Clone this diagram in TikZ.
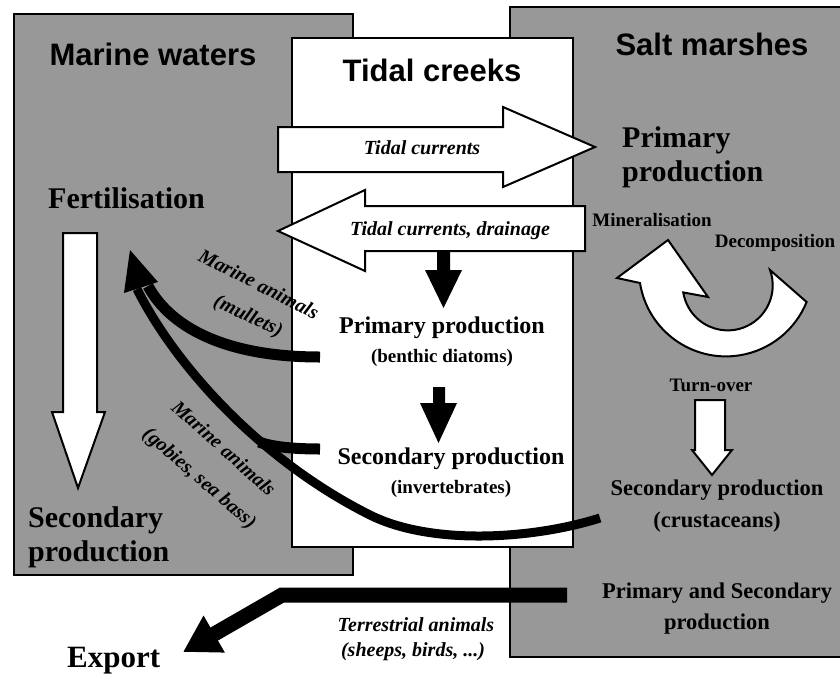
\documentclass[tikz,border=0pt]{standalone}
\usepackage{fontspec}
\setmainfont{Liberation Serif}
\setsansfont{Liberation Sans}
\usetikzlibrary{arrows.meta}
\definecolor{zonegray}{RGB}{152,152,152}
\begin{document}
\begin{tikzpicture}[x=1pt,y=-1pt,
  title/.style={font=\sffamily\bfseries\fontsize{31}{31}\selectfont, inner sep=0pt},
  big/.style={font=\bfseries\fontsize{30}{30}\selectfont, inner sep=0pt},
  mid/.style={font=\bfseries\fontsize{24}{24}\selectfont, inner sep=0pt},
  smalltxt/.style={font=\bfseries\fontsize{19}{19}\selectfont, inner sep=0pt},
  marsh/.style={font=\bfseries\fontsize{22.5}{22.5}\selectfont, inner sep=0pt},
  lab/.style={font=\bfseries\itshape\fontsize{20}{20}\selectfont, inner sep=0pt},
  zone/.style={fill=zonegray, draw=black, line width=1.5pt},
  whitearrow/.style={fill=white, draw=black, line width=2pt, line join=miter},
  flow/.style={draw=black, line cap=butt},
]
\useasboundingbox (0,0) rectangle (840,675);
\fill[white] (0,0) rectangle (840,675);

% zones
\path[zone] (14,14) rectangle (353,575);
\fill[zonegray] (510,7) rectangle (840,657);
\draw[line width=1.5pt] (840,7) -- (510,7) -- (510,657) -- (840,657);
\draw[fill=white, line width=1.5pt] (292,38) rectangle (573,547);

% titles
\node[title] (mw) at (153,54) {Marine waters};
\node[title] (tc) at (432,70) {Tidal creeks};
\node[title] (sm) at (712,44) {Salt marshes};

% tidal current arrows
\draw[whitearrow] (278,127) -- (503,127) -- (503,107) -- (595,147) -- (503,187) -- (503,172) -- (278,172) -- cycle;
\node[lab] (tcur) at (422,148) {Tidal currents};
\draw[whitearrow] (585,206) -- (365,206) -- (365,190) -- (278,231) -- (365,271) -- (365,251) -- (585,251) -- cycle;
\node[lab] (tdr) at (450,231) {Tidal currents, drainage};

% tidal creek contents
\fill (437,251) -- (450,251) -- (450,270) -- (462,270) -- (443.5,308) -- (425,270) -- (437,270) -- cycle;
\node[mid] (pp) at (442,328) {Primary production};
\node[smalltxt] (bd) at (442,358) {(benthic diatoms)};
\fill (433,387) -- (445,387) -- (445,403) -- (457,403) -- (438.5,443) -- (420,403) -- (433,403) -- cycle;
\node[mid] (sp) at (451,459) {Secondary production};
\node[smalltxt] (inv) at (451,489) {(invertebrates)};

% marine waters contents
\node[big, anchor=base west] (fert) at (48,208) {Fertilisation};
\draw[whitearrow] (63,233) -- (97,233) -- (97,412) -- (105,412) -- (78,488) -- (52,412) -- (63,412) -- cycle;
\node[big, anchor=base west] (msec1) at (28,527) {Secondary};
\node[big, anchor=base west] (msec2) at (28,561) {production};

% salt marsh contents
\node[big, anchor=base west] (spp1) at (622,147) {Primary};
\node[big, anchor=base west] (spp2) at (622,181) {production};
\node[smalltxt] (mineral) at (652,220) {Mineralisation};
\node[smalltxt] (decomp) at (775,243) {Decomposition};
\draw[whitearrow] (640,283) arc[start angle=171, end angle=22, radius=87] -- (770,270)
  arc[start angle=-20, end angle=171, radius=45] -- (708,297) -- (668,240) -- (617,278) -- cycle;
\node[smalltxt] (turn) at (711,385) {Turn-over};
\draw[whitearrow] (695,400) -- (725,400) -- (725,450) -- (732,450) -- (712,475) -- (692,450) -- (695,450) -- cycle;
\node[marsh] (ssp1) at (717,490) {Secondary production};
\node[marsh] (ssp2) at (717,522) {(crustaceans)};
\node[marsh] (pas1) at (717,593) {Primary and Secondary};
\node[marsh] (pas2) at (717,624) {production};

% marine animal flows
\coordinate (gobstart) at (600,518);
\coordinate (gobmid) at (370,515);
\coordinate (gobend) at (137,289);
\coordinate (mulstart) at (320,357);
\coordinate (mulend) at (148,286);
\coordinate (invstart) at (320,449);
\coordinate (invjoin) at (259,442);
\draw[flow, line width=9pt] (gobstart) .. controls (530,540) and (430,545) .. (gobmid)
  .. controls (260,460) and (175,365) .. (gobend);
\draw[flow, line width=11pt] (mulstart) .. controls (230,357) and (172,330) .. (mulend);
\draw[flow, line width=11pt] (invstart) .. controls (295,449) and (272,447) .. (invjoin);
\fill (130,250) -- (158,282) -- (124,293) -- cycle;
\node[lab, rotate=-27] (mul1) at (259,284) {Marine animals};
\node[lab, rotate=-25] (mul2) at (248,317) {(mullets)};
\node[lab, rotate=-42] (gob1) at (224,448) {Marine animals};
\node[lab, rotate=-41] (gob2) at (199,479) {(gobies, sea bass)};

% export
\node[font=\bfseries\fontsize{31}{31}\selectfont, inner sep=0pt, anchor=base west] (exp) at (67,667) {Export};
\coordinate (expstart) at (567,595);
\coordinate (expbend) at (282,595);
\coordinate (exptip) at (183,652);
\draw[flow, line width=15pt, line join=miter, -{Triangle[length=36pt, width=40pt]}] (expstart) -- (expbend) -- (exptip);
\node[lab] (ter1) at (416,625) {Terrestrial animals};
\node[lab] (ter2) at (413,652) {(sheeps, birds, ...)};
\end{tikzpicture}
\end{document}
